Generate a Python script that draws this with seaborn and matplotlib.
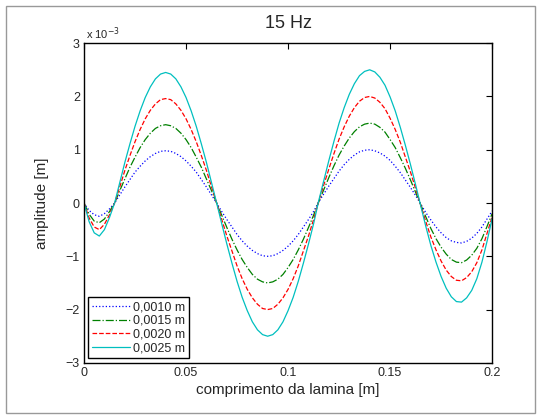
import matplotlib
matplotlib.use("Agg")
import matplotlib.pyplot as plt
import seaborn as sns
import pandas as pd
from matplotlib.patches import Rectangle

# x positions along the blade [m]
x_m = [0.0, 0.0025, 0.005, 0.0075, 0.01, 0.0125, 0.015, 0.0175, 0.02, 0.0225,
       0.025, 0.0275, 0.03, 0.0325, 0.035, 0.0375, 0.04, 0.0425, 0.045, 0.0475,
       0.05, 0.0525, 0.055, 0.0575, 0.06, 0.0625, 0.065, 0.0675, 0.07, 0.0725,
       0.075, 0.0775, 0.08, 0.0825, 0.085, 0.0875, 0.09, 0.0925, 0.095, 0.0975,
       0.1, 0.1025, 0.105, 0.1075, 0.11, 0.1125, 0.115, 0.1175, 0.12, 0.1225,
       0.125, 0.1275, 0.13, 0.1325, 0.135, 0.1375, 0.14, 0.1425, 0.145, 0.1475,
       0.15, 0.1525, 0.155, 0.1575, 0.16, 0.1625, 0.165, 0.1675, 0.17, 0.1725,
       0.175, 0.1775, 0.18, 0.1825, 0.185, 0.1875, 0.19, 0.1925, 0.195, 0.1975, 0.2]

# amplitudes in units of 1e-3 m
amp_0010 = [0, -0.14, -0.22, -0.25, -0.20, -0.11, 0.00, 0.15, 0.30, 0.44,
            0.58, 0.69, 0.79, 0.87, 0.93, 0.97, 0.98, 0.97, 0.93, 0.87,
            0.79, 0.69, 0.58, 0.44, 0.30, 0.15, 0.00, -0.16, -0.31, -0.45,
            -0.59, -0.71, -0.81, -0.89, -0.95, -0.99, -1.00, -0.99, -0.95, -0.89,
            -0.81, -0.71, -0.59, -0.45, -0.31, -0.16, 0.02, 0.17, 0.32, 0.46,
            0.60, 0.72, 0.82, 0.90, 0.96, 0.99, 1.00, 0.98, 0.94, 0.88,
            0.80, 0.69, 0.57, 0.43, 0.29, 0.14, -0.02, -0.18, -0.32, -0.45,
            -0.56, -0.65, -0.71, -0.74, -0.75, -0.72, -0.66, -0.57, -0.45, -0.30, -0.15]
amp_0015 = [0, -0.21, -0.34, -0.37, -0.30, -0.16, 0.00, 0.23, 0.45, 0.67,
            0.86, 1.04, 1.19, 1.31, 1.40, 1.45, 1.47, 1.45, 1.40, 1.31,
            1.19, 1.04, 0.86, 0.67, 0.45, 0.23, 0.00, -0.23, -0.46, -0.68,
            -0.88, -1.06, -1.21, -1.34, -1.43, -1.48, -1.50, -1.48, -1.43, -1.34,
            -1.21, -1.06, -0.88, -0.68, -0.46, -0.23, 0.02, 0.25, 0.48, 0.70,
            0.90, 1.07, 1.22, 1.34, 1.43, 1.48, 1.50, 1.48, 1.42, 1.33,
            1.19, 1.04, 0.85, 0.65, 0.43, 0.20, -0.03, -0.26, -0.48, -0.67,
            -0.83, -0.96, -1.06, -1.11, -1.12, -1.07, -0.98, -0.85, -0.67, -0.44, -0.20]
amp_0020 = [0, -0.28, -0.45, -0.50, -0.40, -0.22, 0.00, 0.30, 0.61, 0.89,
            1.15, 1.38, 1.58, 1.74, 1.86, 1.94, 1.96, 1.94, 1.86, 1.74,
            1.58, 1.38, 1.15, 0.89, 0.61, 0.30, 0.00, -0.31, -0.62, -0.90,
            -1.18, -1.42, -1.62, -1.78, -1.90, -1.98, -2.00, -1.98, -1.90, -1.78,
            -1.62, -1.42, -1.18, -0.90, -0.62, -0.31, 0.03, 0.34, 0.64, 0.93,
            1.20, 1.43, 1.63, 1.79, 1.91, 1.98, 2.00, 1.97, 1.89, 1.77,
            1.59, 1.38, 1.14, 0.86, 0.58, 0.27, -0.04, -0.35, -0.64, -0.88,
            -1.09, -1.26, -1.38, -1.45, -1.46, -1.40, -1.29, -1.12, -0.88, -0.57, -0.26]
amp_0025 = [0, -0.35, -0.56, -0.62, -0.50, -0.27, 0.00, 0.38, 0.76, 1.11,
            1.44, 1.73, 1.98, 2.18, 2.33, 2.42, 2.45, 2.42, 2.33, 2.18,
            1.98, 1.73, 1.44, 1.11, 0.76, 0.38, 0.00, -0.39, -0.77, -1.13,
            -1.47, -1.77, -2.02, -2.23, -2.38, -2.47, -2.50, -2.47, -2.38, -2.23,
            -2.02, -1.77, -1.47, -1.13, -0.77, -0.39, 0.04, 0.42, 0.80, 1.16,
            1.50, 1.79, 2.04, 2.24, 2.39, 2.47, 2.50, 2.46, 2.36, 2.21,
            1.99, 1.73, 1.42, 1.08, 0.72, 0.34, -0.05, -0.44, -0.80, -1.11,
            -1.38, -1.60, -1.76, -1.85, -1.86, -1.78, -1.64, -1.42, -1.11, -0.72, -0.29]

labels = ["0,0010 m", "0,0015 m", "0,0020 m", "0,0025 m"]
series = [amp_0010, amp_0015, amp_0020, amp_0025]
colors = [(0, 0, 1), (0, 0.5, 0), (1, 0, 0), (0, 0.75, 0.75)]
styles = [":", "-.", "--", "-"]

xticks = [0, 0.05, 0.1, 0.15, 0.2]
xticklabels = ["0", "0.05", "0.1", "0.15", "0.2"]
yticks = [-3, -2, -1, 0, 1, 2, 3]
yticklabels = ["\u22123", "\u22122", "\u22121", "0", "1", "2", "3"]

sns.set_style("white")
plt.rcParams["font.family"] = ["Liberation Sans", "DejaVu Sans"]

fig = plt.figure(figsize=(5.42, 4.19), dpi=100)
ax = fig.add_axes([0.155, 0.134, 0.753, 0.763])

for lab, ys, c, ls in zip(labels, series, colors, styles):
    df = pd.DataFrame({"x": x_m, "y": ys})
    sns.lineplot(data=df, x="x", y="y", ax=ax, color=c, linestyle=ls,
                 linewidth=0.9, label=lab, sort=False)

ax.set_xlim(0, 0.2)
ax.set_ylim(-3, 3)
ax.set_xticks(xticks)
ax.set_xticklabels(xticklabels)
ax.set_yticks(yticks)
ax.set_yticklabels(yticklabels)
ax.tick_params(direction="in", length=4, width=0.8, top=True, right=True,
               labelsize=9, pad=3, color="black")
for s in ax.spines.values():
    s.set_color("black")
    s.set_linewidth(1.0)

ax.set_xlabel("comprimento da lamina [m]", fontsize=11, labelpad=3)
ax.set_ylabel("amplitude [m]", fontsize=11, labelpad=12)
ax.set_title("15 Hz", fontsize=13, pad=11)
ax.text(0.005, 1.004, "x 10$^{-3}$", transform=ax.transAxes, fontsize=8,
        ha="left", va="bottom")

leg = ax.legend(loc="lower left", fontsize=9, frameon=True, fancybox=False,
                edgecolor="black", framealpha=1, borderpad=0.3, labelspacing=0.15,
                handlelength=3.0, handletextpad=0.3, borderaxespad=0.35)
leg.get_frame().set_linewidth(1.0)

fig.patches.append(Rectangle((6 / 542, 6 / 419), 529 / 542, 407 / 419,
                             transform=fig.transFigure, fill=False,
                             edgecolor="#999999", linewidth=1.0))

fig.savefig("out.png", dpi=100)
